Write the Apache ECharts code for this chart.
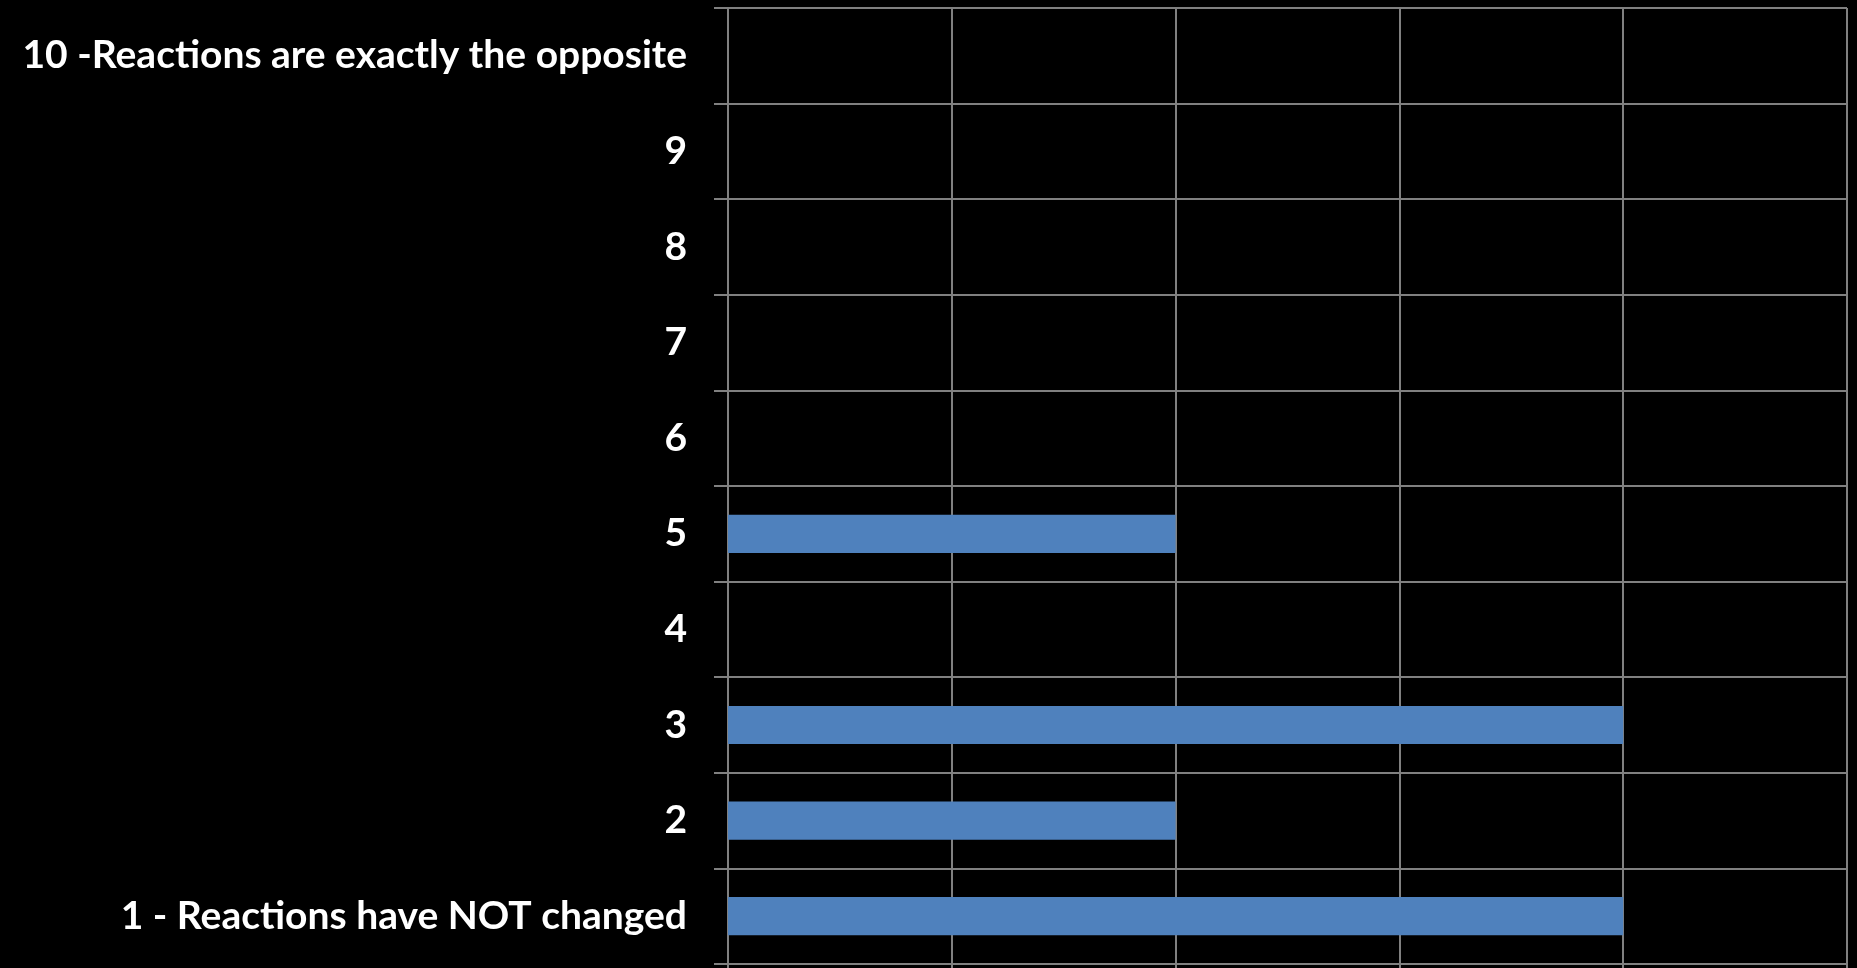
<!DOCTYPE html>
<html>
<head>
<meta charset="utf-8">
<script src="https://cdn.jsdelivr.net/npm/echarts@6/dist/echarts.min.js"></script>
<style>
  html, body { margin: 0; padding: 0; background: #000; }
  #main { width: 1857px; height: 968px; }
</style>
</head>
<body>
<div id="main"></div>
<script>
// 纵轴类别（从下到上）
const categories = [
  '1 - Reactions have NOT changed', '2', '3', '4', '5',
  '6', '7', '8', '9', '10 -Reactions are exactly the opposite'
];
// 各类别的回答数
const responses = [4, 2, 4, 0, 2, 0, 0, 0, 0, 0];
// 横轴范围
const xMax = 5;
const xStep = 1;

const gridColor = '#808080';

var myChart = echarts.init(document.getElementById('main'));

var option = {
  backgroundColor: '#000000',
  animation: false,
  grid: {
    left: 728,
    right: 10,
    top: 8,
    bottom: 4,
    containLabel: false
  },
  xAxis: {
    type: 'value',
    min: 0,
    max: xMax,
    interval: xStep,
    axisLabel: { show: false },
    axisLine: { show: true, lineStyle: { color: gridColor, width: 2 } },
    axisTick: { show: true, length: 6, lineStyle: { color: gridColor, width: 2 } },
    splitLine: { show: true, lineStyle: { color: gridColor, width: 2 } }
  },
  yAxis: {
    type: 'category',
    data: categories,
    axisLine: { show: true, lineStyle: { color: gridColor, width: 2 } },
    axisTick: { show: true, length: 14, lineStyle: { color: gridColor, width: 2 } },
    splitLine: { show: true, lineStyle: { color: gridColor, width: 2 } },
    axisLabel: {
      color: '#ffffff',
      fontFamily: 'Lato',
      fontWeight: 'bold',
      fontSize: 39,
      margin: 41
    }
  },
  series: [
    {
      type: 'bar',
      data: responses,
      barWidth: '40%',
      itemStyle: {
        color: '#4f81bd'
      }
    }
  ]
};

myChart.setOption(option);
</script>
</body>
</html>
